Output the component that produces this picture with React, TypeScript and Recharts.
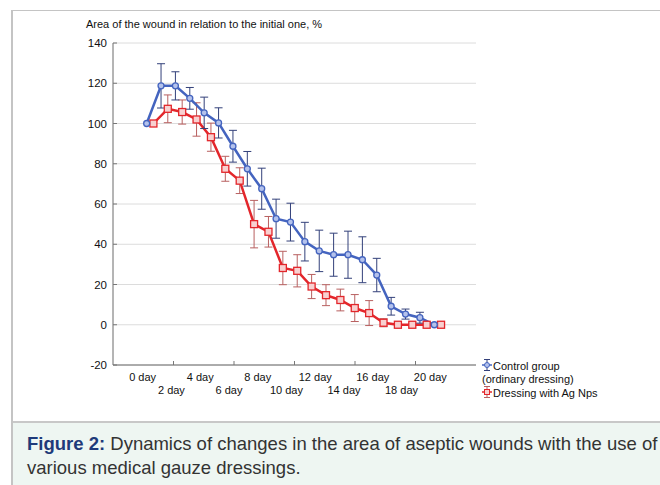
import { LineChart, Line, XAxis, YAxis, CartesianGrid, ErrorBar } from 'recharts';

// wound area, % of the initial one, day 0..20
const days = [0, 1, 2, 3, 4, 5, 6, 7, 8, 9, 10, 11, 12, 13, 14, 15, 16, 17, 18, 19, 20];
const controlArea = [100, 118.7, 118.7, 112.5, 105.3, 100.3, 88.7, 77.5, 67.6, 52.7, 51, 41.3, 36.7, 34.8, 34.8, 32.3, 24.7, 9.2, 5.3, 3.5, 0];
const controlErr = [0, 11, 7, 5.4, 7.8, 7.5, 7.9, 8.6, 10.2, 9.7, 9.4, 9.6, 10.3, 10.7, 11.7, 11.4, 8.3, 4.4, 2.5, 2.7, 0];
const agArea = [100, 107.3, 105.7, 102, 93.2, 77.5, 71.6, 50, 46.2, 28.2, 26.8, 19, 14.7, 12.3, 8.3, 5.8, 1, 0, 0, 0, 0];
const agErr = [0, 6.9, 6, 8.3, 7, 6.2, 6.4, 11.8, 7.6, 8.3, 8, 6, 5.2, 5.4, 6.7, 6.2, 2, 0, 0, 0, 0];

const dayTicks = [0, 2, 4, 6, 8, 10, 12, 14, 16, 18, 20];
const dayLabels = ['0 day', '2 day', '4 day', '6 day', '8 day', '10 day', '12 day', '14 day', '16 day', '18 day', '20 day'];
const yTicks = [-20, 0, 20, 40, 60, 80, 100, 120, 140];

const X_DOMAIN: [number, number] = [-2.34, 22.9];
const AG_SHIFT = 0.47;
// statistica puts the frame tick marks at sixths of the axis
const frameTicks = [1, 2, 3, 4, 5].map((k) => X_DOMAIN[0] + (k * (X_DOMAIN[1] - X_DOMAIN[0])) / 6);

const controlData = days.map((d, i) => ({ x: d, area: controlArea[i], err: controlErr[i] }));
const agData = days.map((d, i) => ({ x: d + AG_SHIFT, area: agArea[i], err: agErr[i] }));

const FONT = '"Liberation Sans", Arial, sans-serif';
const BLUE = '#4464bf';
const RED = '#e3262b';

function bottomTick(p: any) {
  const v = p.payload.value;
  const i = dayTicks.indexOf(v);
  if (i >= 0) {
    const row = i % 2;
    return (
      <text x={p.x - 4} y={p.y + 15.5 + row * 13} textAnchor="middle" fontSize={11} fill="#111" fontFamily={FONT}>
        {dayLabels[i]}
      </text>
    );
  }
  return <line x1={p.x} x2={p.x} y1={p.y} y2={p.y - 4} stroke="#777" />;
}

function topTick(p: any) {
  return <line x1={p.x} x2={p.x} y1={p.y} y2={p.y + 4} stroke="#888" />;
}

function leftTick(p: any) {
  return (
    <g>
      <line x1={p.x} x2={p.x + 4} y1={p.y} y2={p.y} stroke="#777" />
      <text x={p.x - 6} y={p.y + 4} textAnchor="end" fontSize={11.5} fill="#111" fontFamily={FONT}>
        {p.payload.value}
      </text>
    </g>
  );
}

function circleDot(p: any) {
  return <circle key={`c${p.index}`} cx={p.cx} cy={p.cy} r={3} stroke={BLUE} strokeWidth={1.3} fill="#b4c2ec" />;
}

function squareDot(p: any) {
  return <rect key={`s${p.index}`} x={p.cx - 3.5} y={p.cy - 3.5} width={7} height={7} stroke={RED} strokeWidth={1.3} fill="#f8d0d0" />;
}

function LegendIcon({ color, bar, square }: { color: string; bar: string; square?: boolean }) {
  return (
    <svg width={10} height={12} style={{ verticalAlign: '-1px', marginRight: 1 }}>
      <line x1={5} x2={5} y1={0.5} y2={11.5} stroke={bar} />
      <line x1={2} x2={8} y1={0.5} y2={0.5} stroke={bar} />
      <line x1={2} x2={8} y1={11.5} y2={11.5} stroke={bar} />
      <line x1={0} x2={10} y1={6} y2={6} stroke={color} strokeWidth={1.5} />
      {square ? (
        <rect x={2.5} y={3.5} width={5} height={5} stroke={color} fill="#f8d0d0" />
      ) : (
        <circle cx={5} cy={6} r={2.5} stroke={color} fill="#b4c2ec" />
      )}
    </svg>
  );
}

export default function App() {
  return (
    <div style={{ position: 'absolute', left: 0, top: 0, width: 660, height: 485, background: '#fff', overflow: 'hidden', fontFamily: FONT }}>
      <div style={{ position: 'absolute', left: 11, top: 10, right: 0, height: 1, background: '#c4c4c4' }} />
      <div style={{ position: 'absolute', left: 11, top: 10, width: 2, bottom: 0, background: '#c4c4c4' }} />
      <div style={{ position: 'absolute', left: 13, top: 421, right: 0, bottom: 0, background: '#eef6f2', borderTop: '2px solid #c8c8c8' }} />
      <div style={{ position: 'absolute', left: 27, top: 432, fontSize: 18.5, lineHeight: '24px', color: '#333', whiteSpace: 'nowrap' }}>
        <span style={{ color: '#1e3a7a', fontWeight: 'bold' }}>Figure 2:</span> Dynamics of changes in the area of aseptic wounds with the use of
        <br />
        various medical gauze dressings.
      </div>

      <div style={{ position: 'absolute', left: 0, top: 0 }}>
        <LineChart width={660} height={485} margin={{ top: 43, right: 184, bottom: 80, left: 73 }}>
          <CartesianGrid vertical={false} stroke="#dcdcdc" xAxisId="bottom" yAxisId="left" />
          <XAxis
            xAxisId="bottom"
            type="number"
            dataKey="x"
            domain={X_DOMAIN}
            allowDataOverflow
            ticks={[...dayTicks, ...frameTicks].sort((a, b) => a - b)}
            interval={0}
            tickSize={0}
            tickMargin={0}
            tickLine={false}
            tick={bottomTick}
            height={40}
            axisLine={{ stroke: '#6a6a6a' }}
          />
          <XAxis
            xAxisId="top"
            orientation="top"
            type="number"
            domain={X_DOMAIN}
            allowDataOverflow
            ticks={frameTicks}
            interval={0}
            tickSize={0}
            tickMargin={0}
            tickLine={false}
            tick={topTick}
            height={0}
            axisLine={{ stroke: '#888' }}
          />
          <YAxis
            yAxisId="left"
            type="number"
            domain={[-20, 140]}
            allowDataOverflow
            ticks={yTicks}
            interval={0}
            tickSize={0}
            tickMargin={0}
            tickLine={false}
            tick={leftTick}
            width={40}
            axisLine={{ stroke: '#6a6a6a' }}
          />
          <YAxis
            yAxisId="right"
            orientation="right"
            type="number"
            domain={[-20, 140]}
            ticks={yTicks}
            tick={false}
            tickLine={false}
            width={0}
            axisLine={{ stroke: '#999' }}
          />
          <Line
            xAxisId="bottom"
            yAxisId="left"
            data={agData}
            dataKey="area"
            stroke={RED}
            strokeWidth={2.5}
            dot={squareDot}
            activeDot={false}
            isAnimationActive={false}
          >
            <ErrorBar dataKey="err" direction="y" width={4} strokeWidth={1} stroke="#b86060" />
          </Line>
          <Line
            xAxisId="bottom"
            yAxisId="left"
            data={controlData}
            dataKey="area"
            stroke={BLUE}
            strokeWidth={2.5}
            dot={circleDot}
            activeDot={false}
            isAnimationActive={false}
          >
            <ErrorBar dataKey="err" direction="y" width={4} strokeWidth={1} stroke="#33407a" />
          </Line>
        </LineChart>
      </div>

      <div style={{ position: 'absolute', left: 86, top: 18, fontSize: 11, lineHeight: '13px', color: '#111', whiteSpace: 'nowrap' }}>
        Area of the wound in relation to the initial one, %
      </div>

      <div style={{ position: 'absolute', left: 482, top: 359, fontSize: 11, lineHeight: '13px', color: '#111', whiteSpace: 'nowrap' }}>
        <div>
          <LegendIcon color={BLUE} bar="#33407a" />
          Control group
        </div>
        <div>(ordinary dressing)</div>
        <div>
          <LegendIcon color={RED} bar="#b86060" square />
          Dressing with Ag Nps
        </div>
      </div>
    </div>
  );
}
